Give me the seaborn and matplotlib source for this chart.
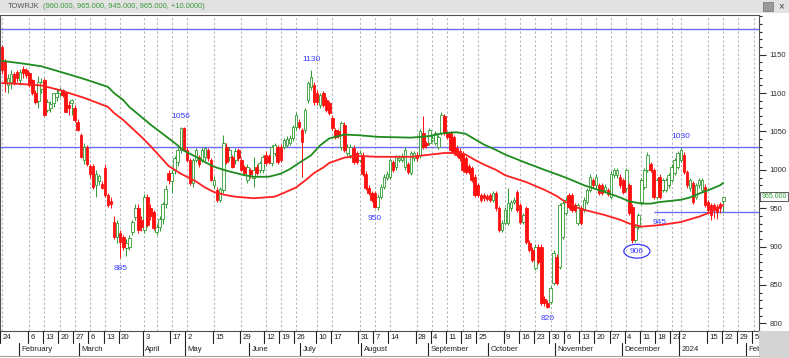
import numpy as np
import pandas as pd
import matplotlib
matplotlib.use("Agg")
import matplotlib.pyplot as plt
import matplotlib.transforms as mtransforms
from matplotlib.patches import Rectangle, Ellipse
from matplotlib.lines import Line2D
import seaborn as sns

# ---------------- data ----------------
opens = [1160,1140,1110,1115,1125,1128,1117,1131,1130,1126,
         1117,1100,1090,1105,1117,1078,1080,1087,1095,1100,
         1104,1100,1085,1087,1081,1063,1046,1013,1030,1005,
         1005,980,985,982,1003,967,960,932,913,918,
         912,898,900,919,939,950,935,922,965,950,
         945,919,926,936,955,996,985,1000,1010,1026,
         1055,1026,1013,983,1013,1017,1013,1017,1026,1013,
         980,974,961,974,1030,1017,1017,1013,1026,1013,
         1004,987,1000,990,1004,1000,1000,1020,1018,1009,
         1022,1030,1030,1030,1033,1035,1042,1056,1062,1052,
         1052,1091,1108,1110,1100,1085,1100,1091,1087,1068,
         1052,1050,1030,1059,1022,1020,1029,1022,1013,1020,
         995,977,970,970,951,965,978,990,991,1010,
         1004,1013,1013,1004,1007,996,1015,1020,1020,1048,
         1035,1035,1039,1035,1030,1048,1070,1048,1048,1043,
         1029,1025,1022,1015,1005,1002,991,980,967,967,
         966,967,961,970,950,922,931,931,950,958,
         971,954,932,950,905,896,872,900,900,832,
         827,828,853,887,874,913,944,967,967,954,
         931,950,948,958,974,987,980,980,980,974,
         974,965,993,993,991,987,976,980,952,908,
         926,958,978,1000,1007,1000,965,991,974,974,
         980,987,996,1004,1013,1020,997,976,983,965,
         980,974,978,958,954,954,952,955,960]
closes = [1130,1115,1120,1125,1115,1120,1128,1126,1124,1111,
          1100,1089,1115,1115,1072,1089,1086,1100,1100,1104,
          1098,1076,1080,1091,1065,1052,1017,1030,1007,995,
          978,995,992,977,967,954,955,913,931,906,
          900,905,911,932,950,922,926,965,928,940,
          924,926,936,955,975,987,996,1015,1026,1055,
          1026,1013,983,1013,1026,1007,1026,1028,1015,987,
          987,961,975,1035,1010,1026,1004,1024,1015,1000,
          996,1004,994,1000,996,1009,1017,1009,1010,1030,
          1032,1010,1013,1039,1040,1042,1056,1072,1056,1036,
          1078,1113,1121,1088,1088,1098,1085,1078,1074,1055,
          1043,1044,1061,1026,1030,1030,1010,1010,1022,995,
          977,970,961,952,965,978,991,995,1013,1000,
          1017,1016,1017,1026,997,1022,1022,1015,1050,1030,
          1032,1052,1042,1048,1043,1072,1048,1043,1026,1022,
          1020,1015,1000,997,997,987,967,967,961,963,
          962,961,970,950,922,931,948,957,958,961,
          948,932,941,906,896,883,900,880,827,826,
          821,846,892,853,954,957,961,952,948,948,
          954,931,961,974,991,980,991,970,970,978,
          969,995,1000,1000,980,971,1000,944,909,926,
          941,987,1000,1020,1000,965,987,965,987,987,
          993,1004,1013,1022,1026,997,980,987,958,980,
          987,987,954,948,941,948,945,950,965]
highs = [1163,1145,1125,1130,1128,1130,1132,1135,1133,1128,
         1118,1104,1122,1120,1120,1092,1090,1100,1105,1108,
         1106,1102,1090,1092,1085,1066,1048,1035,1032,1008,
         1008,1000,995,985,1008,970,964,940,935,922,
         915,910,915,935,955,955,940,968,968,955,
         948,930,940,958,980,1000,1000,1018,1030,1056,
         1056,1030,1016,1015,1028,1020,1030,1030,1028,1016,
         992,978,978,1046,1035,1030,1020,1028,1028,1016,
         1006,1008,1003,1017,1007,1012,1020,1024,1021,1033,
         1035,1033,1034,1042,1044,1046,1059,1075,1066,1055,
         1081,1116,1130,1115,1104,1100,1103,1095,1090,1071,
         1055,1053,1064,1062,1034,1034,1032,1025,1026,1023,
         998,980,973,973,968,981,994,998,1016,1013,
         1020,1019,1022,1030,1010,1025,1025,1023,1053,1070,
         1038,1055,1045,1051,1046,1075,1073,1051,1051,1046,
         1032,1028,1025,1018,1008,1005,994,983,970,970,
         969,970,973,973,953,934,951,977,961,964,
         974,957,944,953,908,899,903,903,903,835,
         830,849,895,890,957,960,964,970,970,957,
         957,953,964,977,994,990,994,983,983,981,
         977,998,1003,1003,994,990,1003,983,955,929,
         944,990,1003,1023,1010,1003,990,994,990,990,
         996,1007,1016,1025,1030,1023,1000,990,986,983,
         990,990,981,961,957,957,955,958,965]
lows = [1125,1101,1100,1105,1110,1115,1110,1120,1120,1108,
        1098,1086,1080,1100,1070,1075,1076,1082,1090,1095,
        1095,1075,1072,1072,1063,1050,1015,1008,1005,990,
        975,965,980,975,965,952,950,910,905,885,
        895,888,895,915,935,918,920,918,925,935,
        922,915,920,930,950,982,970,995,1005,1022,
        1024,1010,980,978,1010,1004,1010,1012,1012,985,
        975,958,958,970,1008,1012,1002,1008,1012,998,
        993,983,990,978,993,996,996,1006,1007,1005,
        1018,1007,1010,1027,1030,1032,1038,1052,1053,991,
        1048,1087,1104,1085,1085,1080,1082,1075,1071,1052,
        1040,1041,1026,1023,1018,1016,1007,1007,1010,992,
        974,967,958,950,948,962,975,987,988,997,
        1000,1010,1010,1000,994,993,1012,1012,1016,1027,
        1029,1032,1036,1032,1027,1045,1045,1040,1023,1019,
        1017,1012,997,994,994,984,964,964,958,960,
        959,958,958,947,919,919,928,928,947,955,
        945,929,929,903,893,880,869,877,824,823,
        820,825,850,850,871,910,941,949,945,945,
        928,928,945,955,971,977,977,967,967,971,
        966,962,990,990,977,968,973,941,905,906,
        923,955,975,997,997,962,962,962,971,971,
        977,984,993,1001,1010,994,977,973,955,962,
        977,971,951,945,935,937,936,944,945]

# moving-average lines, read at sample candles
slow_pos = [0,6,13,19,25,29,35,37,40,42,46,49,52,57,60,64,67,70,74,77,80,83,88,92,95,98,
            102,105,108,113,118,124,135,141,146,150,153,156,159,163,166,173,179,186,192,
            199,204,207,211,214,217,224,227,230,234,237,238]
slow_val = [1142,1139,1135,1128,1121,1116,1108,1100,1091,1082,1069,1059,1050,1035,1025,1017,
            1010,1004,999,996,993,991,991,995,1001,1009,1019,1032,1041,1046,1045,1043,1042,
            1044,1048,1049,1047,1040,1033,1026,1020,1009,1000,990,980,971,964,959,956,956,
            958,961,964,969,975,980,983]
fast_pos = [0,6,13,19,27,31,35,37,40,43,46,49,52,55,59,64,67,70,74,77,83,90,93,97,100,103,
            106,108,113,118,124,135,146,150,153,156,159,163,166,173,179,183,186,189,192,
            199,204,207,211,217,224,230,234,237,238]
fast_val = [1113,1112,1110,1104,1094,1088,1082,1074,1065,1054,1043,1031,1018,1005,995,985,
            977,971,967,965,963,965,970,977,986,996,1003,1009,1016,1018,1017,1017,1022,1022,
            1020,1013,1007,1000,993,984,974,966,958,952,948,941,935,930,926,928,932,939,945,
            953,954]

hlines_full = [1183, 1030]
hline_part_value = 945
hline_part_start = 215

# exchange holidays (to build the trading calendar)
holidays = ["2023-03-22","2023-03-23","2023-04-07","2023-04-19","2023-04-20","2023-04-21",
            "2023-04-24","2023-04-25","2023-05-01","2023-05-18","2023-06-01","2023-06-02",
            "2023-06-28","2023-06-29","2023-06-30","2023-07-19","2023-08-17","2023-09-28",
            "2023-12-25","2023-12-26","2024-01-01"]
day_dates = ["2023-01-24","2023-02-06","2023-02-13","2023-02-20","2023-02-27","2023-03-06",
             "2023-03-13","2023-03-20","2023-04-03","2023-04-17","2023-05-02","2023-05-15",
             "2023-05-29","2023-06-12","2023-06-19","2023-06-26","2023-07-10","2023-07-17",
             "2023-07-31","2023-08-07","2023-08-14","2023-08-28","2023-09-04","2023-09-11",
             "2023-09-18","2023-09-25","2023-10-09","2023-10-16","2023-10-23","2023-10-30",
             "2023-11-06","2023-11-13","2023-11-20","2023-11-27","2023-12-04","2023-12-11",
             "2023-12-18","2023-12-27","2024-01-02","2024-01-15","2024-01-22","2024-01-29",
             "2024-02-05"]
extra_grid = ["2023-04-10"]
month_dates = ["2023-02-01","2023-03-01","2023-04-03","2023-05-02","2023-06-05","2023-07-03",
               "2023-08-01","2023-09-01","2023-10-02","2023-11-01","2023-12-01","2024-01-02",
               "2024-02-01"]
month_names = ["February","March","April","May","June","July","August","September",
               "October","November","December","2024","Feb"]

# extreme labels: (candle, price, text, side)
marks = [(102, 1130, "1130", 1), (59, 1056, "1056", 1), (39, 885, "885", -1),
         (123, 950, "950", -1), (180, 820, "820", -1), (224, 1030, "1030", 1),
         (217, 945, "945", -1)]
circled = (208, 906, "906")

# ---------------- calendar ----------------
cal = pd.bdate_range("2023-01-24", "2024-02-09")
cal = cal[~cal.isin(pd.to_datetime(holidays))]
def pos(d):
    return cal.get_loc(pd.Timestamp(d))

n = len(closes)
idx = np.arange(n)
o = np.array(opens, float); c = np.array(closes, float)
h = np.array(highs, float); l = np.array(lows, float)

# ---------------- figure ----------------
sns.set_style("white")
plt.rcParams['font.family'] = ['Liberation Sans', 'DejaVu Sans']

W, H = 789, 358
fig = plt.figure(figsize=(W/100, H/100), dpi=100)
fig.patch.set_facecolor("white")
ax = fig.add_axes([0, 27/H, 759/W, 316/H])
ax.set_facecolor("white")

GREEN = "#2f9a2f"
RED = "#ff1010"
BLUE = "#6b6bff"
LBLUE = "#3a3aff"
FS = 5.6

ax.set_xlim(-0.66, 249.8)
ax.set_ylim(790.4, 1201.8)

# grid (dashed verticals at week labels)
for d in day_dates + extra_grid:
    ax.axvline(pos(d), color="#b8b8b8", lw=0.8, ls=(0, (2, 2)), zorder=0)

# horizontal study lines
for v in hlines_full:
    ax.axhline(v, color=BLUE, lw=1.0, zorder=1)
ax.hlines(hline_part_value, hline_part_start, 249.8, color=BLUE, lw=1.0, zorder=1)

# candles
up = c >= o
col = np.where(up, GREEN, RED)
ax.vlines(idx, l, h, colors=col, lw=0.7, zorder=2)
body_lo = np.minimum(o, c)
body_h = np.maximum(np.abs(c - o), 1.5)
ax.bar(idx[up], body_h[up], bottom=body_lo[up], width=0.85, facecolor="white",
       edgecolor=GREEN, linewidth=0.6, zorder=3)
ax.bar(idx[~up], body_h[~up], bottom=body_lo[~up], width=0.85, facecolor=RED,
       edgecolor=RED, linewidth=0.6, zorder=3)

# moving averages
sns.lineplot(x=slow_pos, y=slow_val, ax=ax, color="#1e8c1e", linewidth=1.3, zorder=4)
sns.lineplot(x=fast_pos, y=fast_val, ax=ax, color="#ff2020", linewidth=1.3, zorder=4)

# extreme labels
for i, v, t, side in marks:
    ax.annotate(t, xy=(i, v), xytext=(0, 5 * side), textcoords="offset points",
                ha="center", va="bottom" if side > 0 else "top",
                color=LBLUE, fontsize=6, zorder=5)
ci, cv, ct = circled
ax.add_patch(Ellipse((ci + 1.5, cv - 12), 8.6, 18, fill=False, ec=LBLUE, lw=0.9, zorder=5))
ax.text(ci + 1.5, cv - 12, ct, ha="center", va="center", color=LBLUE, fontsize=6, zorder=5)

# axes styling
for s in ax.spines.values():
    s.set_color("#505050"); s.set_linewidth(0.8)
ax.set_xticks([])
ax.yaxis.tick_right()
ax.set_yticks(np.arange(800, 1151, 50))
ax.set_yticks(np.arange(790, 1201, 10), minor=True)
ax.tick_params(axis="y", which="major", direction="out", length=5, width=0.8,
               pad=2.5, labelsize=FS, colors="#303030")
ax.tick_params(axis="y", which="minor", direction="out", length=2.5, width=0.8, colors="#303030")
ax.set_ylabel(""); ax.set_xlabel("")

# date rows below the plot
trans = mtransforms.blended_transform_factory(ax.transData, fig.transFigure)
y_top0, y_top1 = 1 - 331/H, 1 - 343/H
y_mon1 = 1 - 356/H
for d in day_dates:
    p = pos(d)
    fig.add_artist(Line2D([p - 0.5, p - 0.5], [y_top0, y_top1], transform=trans,
                          color="#202020", lw=0.8))
    ax.text(p + 0.3, 1 - 337.5/H, str(pd.Timestamp(d).day), transform=trans,
            fontsize=FS, color="#202020", ha="left", va="center", clip_on=False)
for d, name in zip(month_dates, month_names):
    p = pos(d)
    fig.add_artist(Line2D([p - 0.5, p - 0.5], [y_top1, y_mon1], transform=trans,
                          color="#202020", lw=0.8))
    ax.text(p + 0.3, 1 - 349.5/H, name, transform=trans,
            fontsize=FS, color="#202020", ha="left", va="center", clip_on=False)
fig.add_artist(Line2D([0, 759/W], [1 - 356/H, 1 - 356/H], transform=fig.transFigure,
                      color="#a0a0a0", lw=0.8))

# bottom-right corner block
fig.add_artist(Rectangle((759/W, 0), 30/W, 27/H, transform=fig.transFigure,
                         facecolor="#d4d4d4", edgecolor="none"))

# header bar
fig.add_artist(Rectangle((0, 1 - 13/H), 1, 13/H, transform=fig.transFigure,
                         facecolor="#e2e2e2", edgecolor="none"))
t1 = fig.text(8/W, 1 - 6.5/H, "TOWRJK", fontsize=5.4, color="#505050", va="center", ha="left")
fig.canvas.draw()
x_after = t1.get_window_extent().x1 + 3
fig.text(x_after/W, 1 - 6.5/H, "(960.000, 965.000, 945.000, 965.000, +10.0000)",
         fontsize=5.4, color="#3a9a3a", va="center", ha="left")
fig.add_artist(Rectangle((763/W, 1 - 11/H), 10/W, 9/H, transform=fig.transFigure,
                         facecolor="#9a9a9a", edgecolor="#707070", lw=0.5))
fig.text(781/W, 1 - 6.5/H, "×", fontsize=7, color="#404040", va="center", ha="center")

# last price box on the right axis
fig.text(761.5/W, 1 - (170 + (1000 - closes[-1]) * 0.768) / H, f"{closes[-1]:.3f}",
         fontsize=5, color="#2e9a2e", ha="left", va="center",
         bbox=dict(boxstyle="square,pad=0.15", fc="white", ec="#404040", lw=0.6))

fig.savefig("out.png", dpi=100)
